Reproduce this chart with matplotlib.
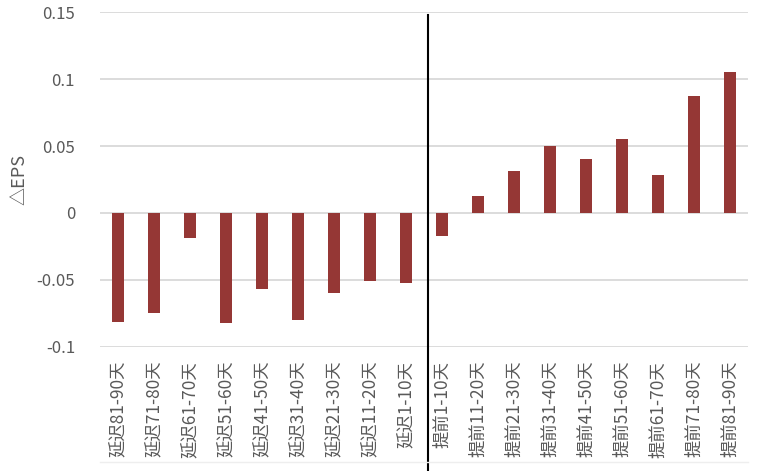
import matplotlib
matplotlib.use('Agg')
import matplotlib.pyplot as plt
import matplotlib.transforms as mtransforms

plt.rcParams['font.family'] = ['Noto Sans CJK SC', 'DejaVu Sans']

# categories and values
categories = ['延迟81-90天', '延迟71-80天', '延迟61-70天', '延迟51-60天', '延迟41-50天',
              '延迟31-40天', '延迟21-30天', '延迟11-20天', '延迟1-10天',
              '提前1-10天', '提前11-20天', '提前21-30天', '提前31-40天', '提前41-50天',
              '提前51-60天', '提前61-70天', '提前71-80天', '提前81-90天']
delta_eps = [-0.081, -0.075, -0.019, -0.082, -0.057, -0.080, -0.060, -0.051, -0.052,
             -0.017, 0.013, 0.031, 0.050, 0.040, 0.055, 0.028, 0.087, 0.105]
yticks = [-0.1, -0.05, 0, 0.05, 0.1, 0.15]
ytick_labels = ['-0.1', '-0.05', '0', '0.05', '0.1', '0.15']

grey = '#595959'

fig = plt.figure(figsize=(7.59, 4.71), dpi=100)
ax = fig.add_axes([0.1318, 0.2633, 0.8537, 0.7112])

x = list(range(len(categories)))
ax.bar(x, delta_eps, width=0.31, color='#953735', zorder=3)

ax.set_xlim(-0.5, len(categories) - 0.5)
ax.set_ylim(-0.1, 0.15)
ax.set_yticks(yticks)
ax.set_yticklabels(ytick_labels, color=grey, fontsize=12)
ax.set_xticks(x)
ax.set_xticklabels(categories, rotation=90, color=grey, fontsize=12.5, va='top', ha='center')
ax.tick_params(axis='both', length=0)
ax.tick_params(axis='x', pad=10)
ax.tick_params(axis='y', pad=18)

ax.grid(axis='y', color='#d9d9d9', linewidth=1.3, zorder=0)
for s in ax.spines.values():
    s.set_visible(False)

ax.set_ylabel('△EPS', color=grey, fontsize=13, labelpad=6)

# divider between delay and early groups, drawn past the axes bottom
trans = mtransforms.blended_transform_factory(ax.transData, ax.transAxes)
ax.plot([8.6, 8.6], [0.992, -0.625], transform=trans, color='black',
        linewidth=1.5, clip_on=False, zorder=4)

# faint chart border under the labels
fig.add_artist(plt.Line2D([0.1318, 0.9855], [0.019, 0.019], color='#eeeeee', linewidth=1))

fig.savefig('out.png', dpi=100)
